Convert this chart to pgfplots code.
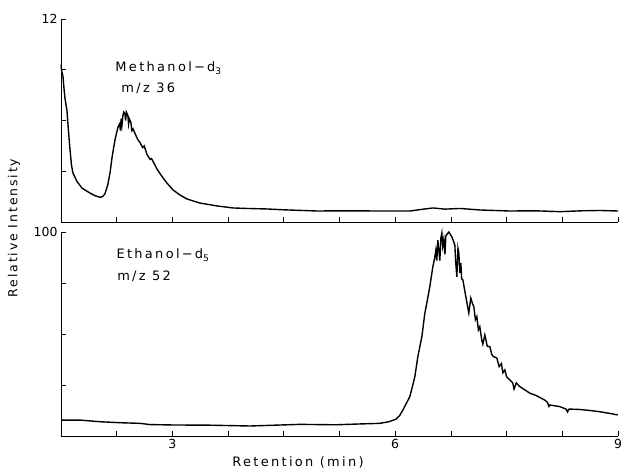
\documentclass[border=0pt]{standalone}
\usepackage{pgfplots}
\pgfplotsset{compat=1.18}
\usepackage{fontspec}
\setmainfont{DejaVu Sans}
\newfontfamily\plotfont[LetterSpace=18]{DejaVu Sans}
\newfontfamily\ylabfont[LetterSpace=15]{DejaVu Sans}
\newfontfamily\tickfont{DejaVu Sans}
\pgfplotstableread{
x y
1.500 9.3
1.510 8.9
1.527 8.6
1.540 7.9
1.554 7.3
1.580 6.6
1.600 5.4
1.621 4.3
1.640 3.4
1.660 2.9
1.715 2.4
1.783 2.0
1.890 1.71
1.960 1.55
2.025 1.46
2.060 1.50
2.090 1.65
2.130 2.2
2.160 2.9
2.190 3.9
2.227 4.85
2.250 5.3
2.267 5.6
2.290 5.8
2.300 5.4
2.310 6.1
2.320 5.7
2.334 6.3
2.345 6.5
2.360 6.4
2.370 6.0
2.380 6.5
2.400 6.3
2.410 5.8
2.420 6.1
2.440 5.9
2.455 5.4
2.470 5.5
2.500 5.2
2.530 4.9
2.563 4.7
2.600 4.4
2.620 4.5
2.657 4.0
2.700 3.7
2.720 3.75
2.790 3.15
2.850 2.75
2.927 2.3
3.007 1.9
3.100 1.6
3.196 1.36
3.370 1.12
3.600 0.95
3.815 0.83
4.000 0.80
4.270 0.77
4.500 0.72
4.945 0.65
5.300 0.66
5.790 0.65
6.200 0.65
6.400 0.77
6.510 0.83
6.670 0.76
6.870 0.80
7.140 0.71
7.540 0.65
7.900 0.66
8.220 0.61
8.500 0.66
8.750 0.68
9.000 0.65
}\methanol
\pgfplotstableread{
x y
1.500 7.8
1.756 7.8
2.025 7.0
2.300 6.5
2.563 6.2
2.700 5.6
3.007 5.4
3.500 5.3
4.044 4.9
4.717 5.7
5.200 5.5
5.524 5.9
5.793 6.2
5.915 7.0
6.009 8.2
6.060 10.0
6.103 12.7
6.150 16.0
6.197 19.3
6.230 24.0
6.264 29.0
6.305 38.9
6.359 48.7
6.399 60.2
6.430 66.0
6.466 73.2
6.507 83.0
6.530 87.0
6.547 91.0
6.560 86.0
6.574 96.0
6.590 90.0
6.601 86.0
6.615 97.0
6.628 99.5
6.640 93.0
6.655 96.5
6.670 89.0
6.682 98.0
6.700 99.0
6.722 100.0
6.740 99.0
6.762 97.7
6.780 96.0
6.803 93.6
6.815 85.0
6.830 78.0
6.845 92.0
6.857 89.7
6.870 80.0
6.884 84.8
6.895 77.0
6.911 76.5
6.951 68.3
6.991 60.3
7.018 67.6
7.040 65.0
7.059 63.4
7.080 57.0
7.099 58.5
7.120 52.0
7.139 53.6
7.166 47.0
7.180 45.0
7.207 49.5
7.240 44.0
7.274 43.8
7.300 40.0
7.320 39.0
7.368 38.2
7.400 34.0
7.430 35.5
7.450 31.0
7.476 32.4
7.500 29.0
7.543 27.5
7.583 26.0
7.600 23.0
7.630 26.0
7.678 24.2
7.750 22.5
7.812 21.0
7.900 19.8
8.014 17.6
8.050 16.5
8.070 14.5
8.081 15.2
8.216 14.4
8.300 13.2
8.320 11.8
8.340 13.2
8.485 13.0
8.600 12.6
8.754 11.9
8.900 11.0
8.997 10.3
}\ethanol
\begin{document}
\begin{tikzpicture}[x=1bp,y=1bp]
\useasboundingbox (0,0) rectangle (626,474);
\pgfplotsset{
  base/.style={
    scale only axis, width=557bp,
    xmin=1.5, xmax=9,
    axis x line*=bottom, axis y line*=left,
    axis line style={-, line width=0.9pt},
    tick align=inside, major tick length=5bp,
    tick style={line width=0.8pt, black},
    xtick={1.5,2.25,...,9.1},
    tick label style={font=\tickfont\fontsize{12.5}{14}\selectfont},
    /pgf/number format/assume math mode=true,
    clip=false,
  },
}
% top panel
\begin{axis}[base, at={(61bp,252bp)}, anchor=south west, height=203bp,
  ymin=0, ymax=12, ytick={0,3,6,9,12}, yticklabels={,,,,12},
  xticklabels={,,,,,,,,,,}]
\addplot[black, line width=1.4pt] table[x=x,y=y] {\methanol};
\node[anchor=west, font=\plotfont\fontsize{13}{15}\selectfont] at (axis cs:2.186,9.1) {Methanol\,−\,d\textsubscript{3}};
\node[anchor=west, font=\plotfont\fontsize{13}{15}\selectfont] at (axis cs:2.267,7.9) {m/z 36};
\end{axis}
% bottom panel
\begin{axis}[base, at={(61bp,38bp)}, anchor=south west, height=204bp,
  ymin=0, ymax=100, ytick={0,25,50,75,100}, yticklabels={,,,,100},
  xticklabels={,,3,,,,6,,,,9}]
\addplot[black, line width=1.4pt] table[x=x,y=y] {\ethanol};
\node[anchor=west, font=\plotfont\fontsize{13}{15}\selectfont] at (axis cs:2.2,88.7) {Ethanol\,−\,d\textsubscript{5}};
\node[anchor=west, font=\plotfont\fontsize{13}{15}\selectfont] at (axis cs:2.21,78.4) {m/z 52};
\end{axis}
\node[rotate=90, font=\ylabfont\fontsize{12.5}{14}\selectfont] at (14,246) {Relative Intensity};
\node[font=\plotfont\fontsize{13}{15}\selectfont] at (298,12) {Retention (min)};
\end{tikzpicture}
\end{document}
